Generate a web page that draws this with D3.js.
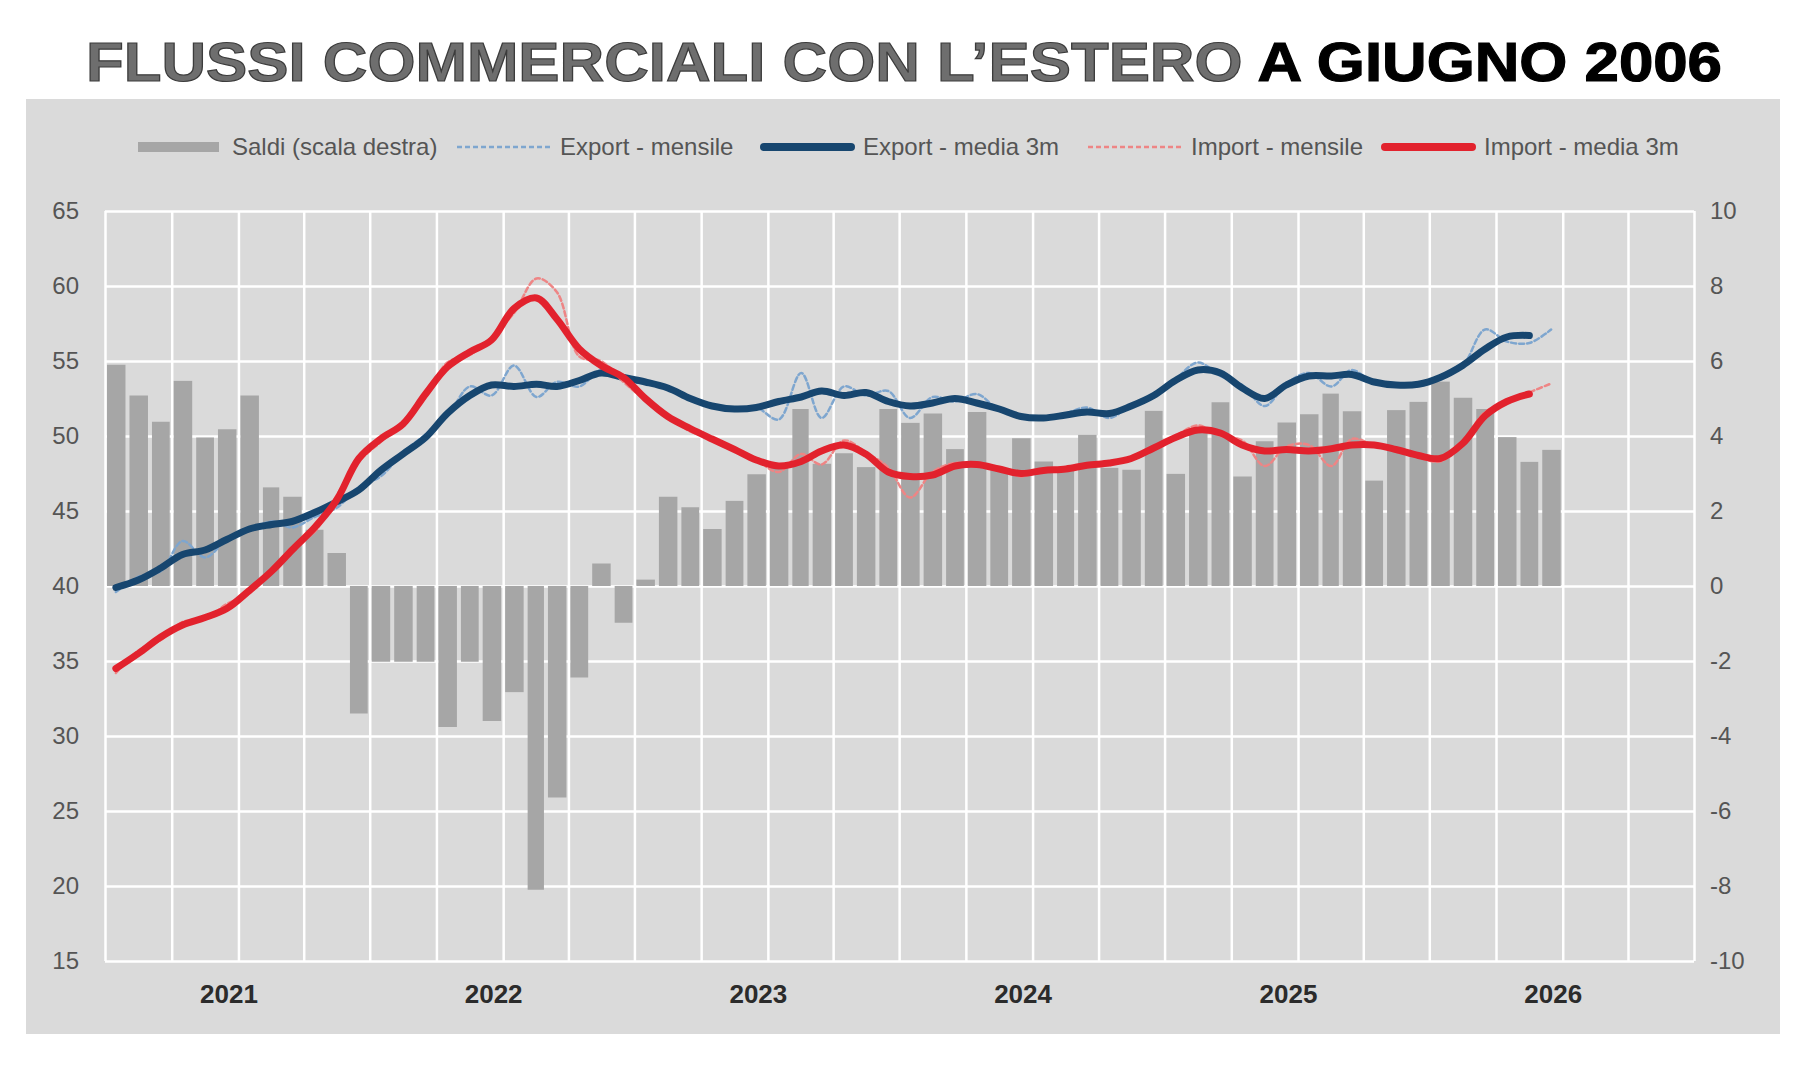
<!DOCTYPE html>
<html>
<head>
<meta charset="utf-8">
<script src="https://cdn.jsdelivr.net/npm/d3@7"></script>
<style>
  body { margin: 0; background: #ffffff; }
  svg { display: block; font-family: "Liberation Sans", Arial, sans-serif; }
</style>
</head>
<body>
<div id="chart-area"></div>
<script>
// months: July 2020 .. December 2025 (66 monthly observations)
var firstMonth = new Date(2020, 6, 1);
var lastMonth = new Date(2025, 11, 1);
var axisStart = new Date(2020, 6, 1);
var axisEnd = new Date(2026, 6, 1);

// trade balance, right scale
var saldi = [5.9, 5.08, 4.38, 5.47, 3.96, 4.18, 5.08, 2.63, 2.38, 1.5,
    0.88, -3.4, -2.02, -2.02, -2.02, -3.76, -2.02, -3.6, -2.83, -8.1,
    -5.64, -2.44, 0.6, -0.98, 0.17, 2.38, 2.1, 1.52, 2.27, 2.98,
    3.15, 4.72, 3.26, 3.54, 3.17, 4.72, 4.35, 4.6, 3.65, 4.64,
    3.15, 3.94, 3.32, 3.1, 4.03, 3.15, 3.1, 4.67, 2.99, 4.1,
    4.9, 2.92, 3.86, 4.36, 4.58, 5.13, 4.66, 2.81, 4.69, 4.91,
    5.45, 5.02, 4.72, 3.97, 3.31, 3.63];

var exportMensile = [39.6, 40.6, 41.0, 43.0, 41.9, 43.1, 43.7, 44.3, 43.9, 44.6,
    45.2, 46.6, 47.3, 48.9, 50.1, 51.3, 53.3, 52.7, 54.7, 52.6,
    53.6, 53.3, 54.4, 53.7, 53.5, 53.2, 52.4, 52.0, 51.8, 51.9,
    51.1, 54.2, 51.2, 53.3, 52.7, 53.0, 51.2, 52.6, 52.3, 52.8,
    51.7, 51.3, 51.1, 51.5, 51.9, 51.2, 52.1, 52.8, 53.8, 54.9,
    54.0, 53.4, 52.0, 53.5, 54.2, 53.3, 54.4, 53.5, 53.4, 53.4,
    54.0, 54.7, 57.1, 56.3, 56.2, 57.1];

var exportMedia = [39.9, 40.4, 41.2, 42.1, 42.4, 43.1, 43.8, 44.1, 44.3, 44.9,
    45.6, 46.4, 47.7, 48.8, 49.9, 51.5, 52.7, 53.4, 53.3, 53.45,
    53.3, 53.7, 54.2, 53.9, 53.6, 53.2, 52.5, 52.0, 51.8, 51.9,
    52.3, 52.6, 53.0, 52.7, 52.9, 52.3, 52.0, 52.2, 52.5, 52.2,
    51.8, 51.3, 51.2, 51.4, 51.6, 51.5, 52.0, 52.7, 53.7, 54.4,
    54.2, 53.2, 52.5, 53.4, 54.0, 54.0, 54.1, 53.6, 53.4, 53.45,
    53.9, 54.7, 55.8, 56.6, 56.7];

var importMensile = [34.2, 35.7, 36.4, 37.6, 37.8, 38.8, 39.5, 41.0, 42.6, 43.6,
    46.0, 48.3, 49.6, 51.0, 52.6, 54.9, 55.4, 56.6, 58.2, 60.5,
    59.6, 55.3, 55.0, 53.6, 52.4, 51.4, 50.3, 49.9, 49.0, 48.4,
    47.6, 48.8, 48.1, 49.7, 48.9, 47.9, 45.9, 47.6, 48.2, 48.0,
    47.9, 47.3, 47.8, 47.7, 48.1, 48.2, 48.6, 49.1, 50.0, 50.7,
    50.0, 49.7, 48.0, 49.3, 49.4, 48.0, 49.8, 49.4, 49.2, 48.6,
    48.3, 49.6, 51.6, 52.2, 52.9, 53.5];

var importMedia = [34.5, 35.5, 36.6, 37.4, 37.9, 38.5, 39.7, 41.0, 42.4, 43.9,
    45.7, 48.5, 49.8, 50.8, 52.8, 54.6, 55.6, 56.4, 58.5, 59.2,
    57.8, 55.8, 54.7, 53.9, 52.5, 51.3, 50.5, 49.8, 49.1, 48.4,
    48.0, 48.3, 49.0, 49.4, 48.8, 47.6, 47.3, 47.4, 48.0, 48.1,
    47.8, 47.5, 47.7, 47.8, 48.05, 48.2, 48.5, 49.2, 49.9, 50.4,
    50.2, 49.4, 49.0, 49.1, 49.0, 49.15, 49.4, 49.4, 49.1, 48.7,
    48.5, 49.5, 51.35, 52.3, 52.8];

var leftTicks = [15, 20, 25, 30, 35, 40, 45, 50, 55, 60, 65];
var rightTicks = [-10, -8, -6, -4, -2, 0, 2, 4, 6, 8, 10];

var legendItems = [
    {label: "Saldi (scala destra)", kind: "bar", color: "#a6a6a6"},
    {label: "Export - mensile", kind: "dash", color: "#7ea6cf"},
    {label: "Export - media 3m", kind: "line", color: "#17466f"},
    {label: "Import - mensile", kind: "dash", color: "#ee8585"},
    {label: "Import - media 3m", kind: "line", color: "#e2222d"}
];
var legendX = [138, 457, 760, 1088, 1381];

var width = 1800;
var height = 1080;
var plot = {left: 105, right: 1694, top: 211, bottom: 961};

var months = d3.timeMonth.range(firstMonth, d3.timeMonth.offset(lastMonth, 1));
function mid(d){ return new Date(d.getFullYear(), d.getMonth(), 16); }

var x = d3.scaleTime()
    .domain([axisStart, axisEnd])
    .range([plot.left, plot.right]);

var yLeft = d3.scaleLinear()
    .domain([15, 65])
    .range([plot.bottom, plot.top]);

var yRight = d3.scaleLinear()
    .domain([-10, 10])
    .range([plot.bottom, plot.top]);

var svg = d3.select("#chart-area").append("svg")
    .attr("width", width)
    .attr("height", height);

// title
var title = svg.append("text")
    .attr("x", 904)
    .attr("y", 81)
    .attr("text-anchor", "middle")
    .attr("font-size", 56)
    .attr("font-weight", "bold")
    .attr("textLength", 1636)
    .attr("lengthAdjust", "spacingAndGlyphs");
title.append("tspan")
    .text("FLUSSI COMMERCIALI CON L\u2019ESTERO ")
    .attr("fill", "#6e6e6e")
    .attr("stroke", "#3c3c3c")
    .attr("stroke-width", 1.2);
title.append("tspan")
    .text("A GIUGNO 2006")
    .attr("fill", "#000000")
    .attr("stroke", "#000000")
    .attr("stroke-width", 1.2);

// grey panel
svg.append("rect")
    .attr("x", 26)
    .attr("y", 99)
    .attr("width", 1754)
    .attr("height", 935)
    .attr("fill", "#dadada");

// legend
var legend = svg.append("g").attr("class", "legend");
legendItems.forEach(function(item, i){
    var lx = legendX[i];
    if (item.kind == "bar"){
        legend.append("rect")
            .attr("x", lx).attr("y", 142)
            .attr("width", 81).attr("height", 10)
            .attr("fill", item.color);
    } else if (item.kind == "dash"){
        legend.append("line")
            .attr("x1", lx).attr("x2", lx + 95)
            .attr("y1", 147).attr("y2", 147)
            .attr("stroke", item.color)
            .attr("stroke-width", 2.5)
            .attr("stroke-dasharray", "5,3");
    } else {
        legend.append("line")
            .attr("x1", lx + 4).attr("x2", lx + 91)
            .attr("y1", 147).attr("y2", 147)
            .attr("stroke", item.color)
            .attr("stroke-width", 8)
            .attr("stroke-linecap", "round");
    }
    legend.append("text")
        .attr("x", lx + (item.kind == "bar" ? 94 : 103))
        .attr("y", 147)
        .attr("dy", "0.35em")
        .attr("font-size", 24)
        .attr("fill", "#555")
        .text(item.label);
});

// horizontal grid + left labels
var leftAxis = svg.append("g")
    .attr("transform", "translate(" + plot.left + ",0)")
    .call(d3.axisLeft(yLeft)
        .tickValues(leftTicks)
        .tickSize(-(plot.right - plot.left))
        .tickPadding(26));
leftAxis.select(".domain").remove();
leftAxis.selectAll("line").attr("stroke", "#ffffff").attr("stroke-width", 2.5);
leftAxis.selectAll("text")
    .attr("font-size", 24)
    .attr("font-family", "Liberation Sans, Arial, sans-serif")
    .attr("fill", "#555");

// quarterly vertical grid
var vGrid = svg.append("g")
    .attr("transform", "translate(0," + plot.bottom + ")")
    .call(d3.axisBottom(x)
        .ticks(d3.timeMonth.every(3))
        .tickSize(-(plot.bottom - plot.top))
        .tickFormat(""));
vGrid.select(".domain").remove();
vGrid.selectAll("line").attr("stroke", "#ffffff").attr("stroke-width", 2.5);

// right labels (plain hyphen for negatives)
var rightAxis = svg.append("g")
    .attr("transform", "translate(" + plot.right + ",0)")
    .call(d3.axisRight(yRight)
        .tickValues(rightTicks)
        .tickSize(0)
        .tickPadding(16)
        .tickFormat(function(d){ return String(d); }));
rightAxis.select(".domain").remove();
rightAxis.selectAll("text")
    .attr("font-size", 24)
    .attr("font-family", "Liberation Sans, Arial, sans-serif")
    .attr("fill", "#555");

// year labels
var xAxis = svg.append("g")
    .attr("transform", "translate(0," + plot.bottom + ")")
    .call(d3.axisBottom(x)
        .ticks(d3.timeYear.every(1))
        .tickSize(0)
        .tickPadding(24)
        .tickFormat(d3.timeFormat("%Y")));
xAxis.select(".domain").remove();
xAxis.selectAll("text")
    .attr("font-size", 26)
    .attr("font-weight", "bold")
    .attr("font-family", "Liberation Sans, Arial, sans-serif")
    .attr("fill", "#2b2b2b")
    .attr("dx", -10);

// bars (right scale)
svg.append("g").selectAll("rect")
    .data(saldi)
    .enter()
    .append("rect")
        .attr("x", function(d, i){ return x(months[i]) + 2; })
        .attr("width", function(d, i){
            return x(d3.timeMonth.offset(months[i], 1)) - x(months[i]) - 4;
        })
        .attr("y", function(d){ return yRight(Math.max(0, d)); })
        .attr("height", function(d){ return Math.abs(yRight(d) - yRight(0)); })
        .attr("fill", "#a6a6a6");

function drawLine(values, color, widthPx, dash){
    var line = d3.line()
        .x(function(d, i){ return x(mid(months[i])); })
        .y(function(d){ return yLeft(d); })
        .curve(d3.curveCatmullRom.alpha(0.5));
    var path = svg.append("path")
        .datum(values)
        .attr("d", line)
        .attr("fill", "none")
        .attr("stroke", color)
        .attr("stroke-width", widthPx)
        .attr("stroke-linejoin", "round")
        .attr("stroke-linecap", "round");
    if (dash){ path.attr("stroke-dasharray", dash); }
}

drawLine(exportMensile, "#7ea6cf", 2.5, "5,3");
drawLine(exportMedia, "#17466f", 7, null);
drawLine(importMensile, "#ee8585", 2.5, "5,3");
drawLine(importMedia, "#e2222d", 7, null);
</script>
</body>
</html>
